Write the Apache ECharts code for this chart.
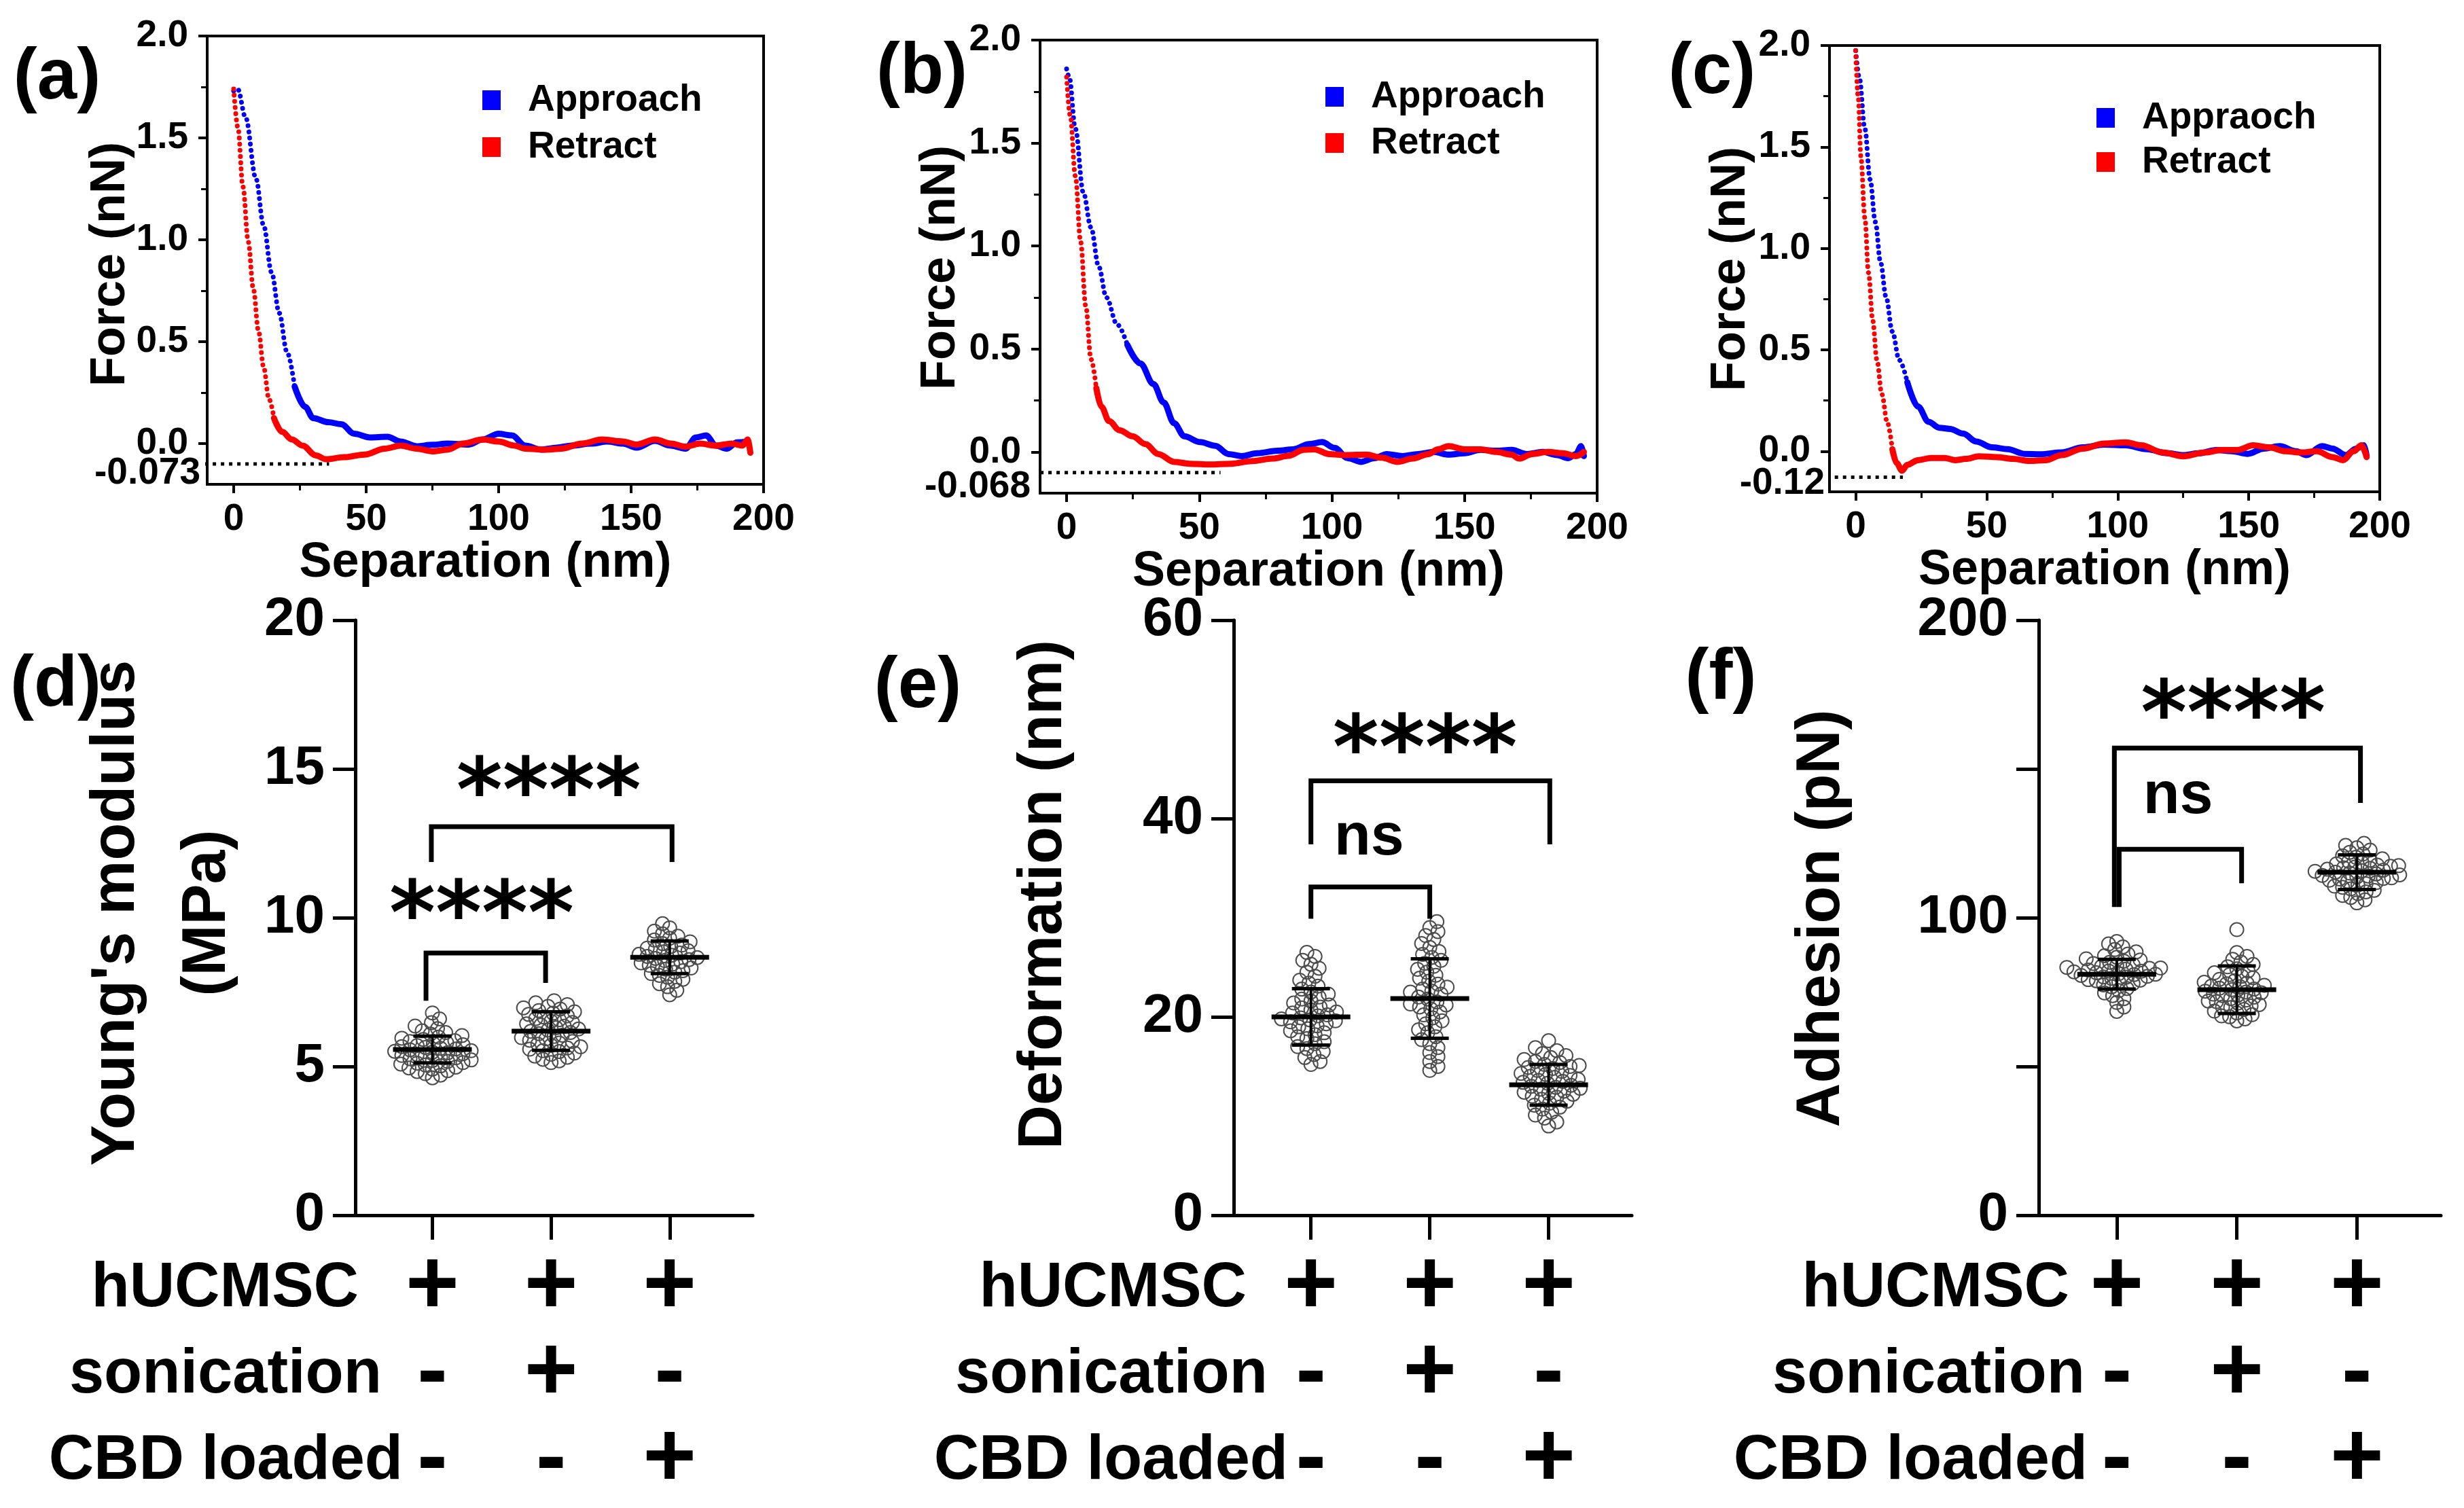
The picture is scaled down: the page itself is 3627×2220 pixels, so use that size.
<!DOCTYPE html>
<html><head><meta charset="utf-8">
<script src="https://cdn.jsdelivr.net/npm/echarts@6/dist/echarts.min.js"></script>
<style>html,body{margin:0;padding:0;background:#fff}#c{width:3627px;height:2220px}</style>
</head><body><div id="c"></div>
<script>
// ---------------- DATA ----------------
// (a)
const approachA = [[0,1.73],[1.5,1.74],[4.5,1.6],[8.4,1.3],[11.3,1.07],[14.3,0.84],[17.2,0.64],[20.1,0.45],[23,0.28],[27,0.18],[30,0.125],[35.7,0.105],[40.6,0.095],[45.5,0.048],[51.4,0.03],[58,0.033],[63,0.01],[69,-0.013],[75,-0.006],[80.7,0],[88.5,-0.005],[94,0.02],[100,0.048],[105,0.04],[110,-0.01],[116,-0.03],[122,-0.02],[127.5,-0.01],[135,0],[141,0.01],[147,0],[152,-0.02],[159,0.013],[165,-0.01],[170.5,-0.025],[174.5,0.03],[178.3,0.04],[182,-0.01],[186,-0.025],[190,0.006],[194,0.01]];
const retractA = [[0,1.74],[1.6,1.55],[3.5,1.26],[5.5,0.99],[7.4,0.76],[9.4,0.55],[11.3,0.375],[13.3,0.22],[15.2,0.125],[18.2,0.058],[22,0.02],[26,-0.01],[31,-0.058],[34.8,-0.077],[41.6,-0.067],[49.4,-0.054],[57,-0.025],[63,-0.01],[69,-0.025],[75,-0.038],[80.7,-0.03],[86.5,0],[94,0.02],[100,0.01],[106,-0.01],[110,-0.025],[118,-0.03],[123.6,-0.025],[131.5,0],[139,0.02],[147,0.01],[152,-0.005],[159,0.02],[165,0],[170.5,-0.015],[176,0],[182,-0.01],[188,0],[192,-0.01],[194,0.02],[195,-0.045]];
// (b)
const approachB = [[0,1.86],[1,1.82],[3.3,1.57],[6.3,1.26],[9.2,1.09],[12.1,0.9],[15,0.75],[19,0.62],[22.9,0.52],[27.8,0.43],[32.7,0.33],[36.6,0.24],[40.5,0.14],[44.4,0.076],[50.3,0.048],[56,0.03],[61,-0.01],[66,-0.02],[71.8,-0.006],[79.6,0.006],[85.5,0.013],[91.4,0.038],[96.3,0.048],[101,0.02],[106,-0.03],[111,-0.048],[116,-0.03],[120.7,-0.01],[126.6,-0.02],[132.5,-0.01],[138.4,0],[144,-0.013],[150,-0.006],[156,0.01],[162,0.006],[167.7,0.01],[173.6,-0.01],[179.5,0],[185,-0.015],[189,-0.03],[192,-0.01],[194,0.028],[195,-0.02]];
const retractB = [[0,1.82],[1.4,1.63],[3.3,1.34],[5.3,1.02],[7.2,0.71],[9.2,0.45],[11.2,0.31],[13.1,0.22],[16,0.15],[20,0.105],[24.9,0.076],[29.7,0.038],[34.6,-0.01],[40.5,-0.048],[46.4,-0.057],[54,-0.061],[62,-0.057],[70,-0.044],[77.7,-0.032],[83.6,-0.019],[89.4,0.01],[93.3,0.013],[99,-0.01],[105,-0.015],[113,-0.013],[118.8,-0.028],[124.7,-0.048],[130.5,-0.032],[136.4,-0.01],[140,0.013],[144,0.028],[150,0.013],[156,0.013],[162,0],[167.7,-0.013],[170.6,-0.032],[175.5,-0.01],[181.4,0],[187,-0.006],[192,-0.02],[195,0]];
// (c)
const approachC = [[0,1.975],[1.4,1.84],[3.5,1.59],[5.5,1.34],[7.5,1.13],[9.5,0.93],[11.6,0.76],[14,0.59],[16.6,0.45],[19.7,0.34],[23.8,0.22],[27.8,0.145],[31.9,0.116],[36,0.11],[41,0.087],[46,0.048],[52,0.019],[58,0.01],[64.4,-0.013],[70.5,-0.015],[78.6,-0.006],[86.7,0.019],[94.8,0.033],[103,0.029],[111,0.01],[119,-0.01],[125,-0.019],[131,-0.01],[137.5,0.006],[143.6,0],[149.6,-0.013],[155.7,0.013],[161.8,0.025],[168,0],[172,-0.019],[178,0.025],[182,0.013],[187,-0.019],[191,0.013],[194,0.029],[195,-0.025]];
const retractC = [[0,1.975],[1,1.74],[2,1.45],[3.5,1.15],[4.9,0.88],[6.5,0.645],[8.1,0.45],[10,0.28],[12,0.145],[14,0.01],[15.6,-0.058],[17.7,-0.096],[19.7,-0.067],[23.8,-0.044],[28.8,-0.033],[33.9,-0.033],[38,-0.044],[42,-0.038],[47,-0.025],[54,-0.029],[60,-0.038],[66.4,-0.048],[72.5,-0.044],[78.6,-0.019],[86.7,0.013],[94.8,0.038],[103,0.044],[109,0.029],[117,-0.006],[125,-0.025],[133.4,-0.006],[139.5,0.006],[145.6,0.006],[151.7,0.029],[157.8,0.019],[164,0],[170,-0.006],[176,0],[182,-0.029],[186,-0.044],[190,0],[193,0.029],[195,-0.029]];
const curveNames = [['Approach','Retract'],['Approach','Retract'],['Appraoch','Retract']];
const adhesionLineY = [-0.1, -0.1, -0.128];
const adhesionLineX = [[-51, 36], [-53, 58], [-8, 18]];
const adhesionLabels = ['-0.073', '-0.068', '-0.12'];
const forceTicks = [0, 0.5, 1.0, 1.5, 2.0];
const forceMinorTicks = [0.25, 0.75, 1.25, 1.75];
const sepTicks = [0, 50, 100, 150, 200];
const sepMinorTicks = [25, 75, 125, 175];

// (d)(e)(f) conditions
const rowTitles = ['hUCMSC', 'sonication', 'CBD loaded'];
const hucmsc = ['+', '+', '+'];
const sonication = ['-', '+', '-'];
const cbdLoaded = ['-', '-', '+'];

// (d) Young's modulus (MPa)
const young1 = [4.62,4.71,4.76,4.83,4.86,4.91,4.95,4.98,5.02,5.05,5.08,5.11,5.13,5.17,5.2,5.22,5.26,5.29,5.31,5.34,5.37,5.4,5.43,5.46,5.48,5.51,5.53,5.56,5.59,5.61,5.64,5.67,5.7,5.73,5.77,5.8,5.84,5.87,5.91,5.95,5.99,6.04,6.09,6.14,6.2,6.27,6.36,6.47,6.6,6.8];
const young2 = [5.13,5.19,5.24,5.31,5.35,5.41,5.45,5.5,5.53,5.58,5.62,5.66,5.71,5.75,5.79,5.84,5.88,5.93,5.97,6.01,6.05,6.1,6.14,6.18,6.22,6.26,6.3,6.35,6.39,6.43,6.48,6.52,6.57,6.61,6.66,6.7,6.75,6.79,6.84,6.88,6.93,6.97,7.02,7.08,7.14,7.21];
const young3 = [7.41,7.56,7.68,7.78,7.86,7.93,8.0,8.06,8.12,8.17,8.22,8.27,8.31,8.36,8.4,8.44,8.48,8.52,8.56,8.59,8.63,8.66,8.7,8.74,8.77,8.81,8.85,8.89,8.94,8.98,9.03,9.08,9.13,9.19,9.25,9.31,9.38,9.46,9.55,9.66,9.8];
const youngMean = [5.57, 6.19, 8.67];
const youngSd = [0.45, 0.65, 0.55];
const youngBrackets = [[0.946, 1.954, 8.81, 7.21, 7.81], [0.991, 3.02, 13.06, 11.87, 11.87]];
const youngSigX = [1.415, 1.98], youngSigY = [9.9, 14.04], youngSigText = ['****', '****'];
const youngTicks = [0, 5, 10, 15, 20];

// (e) Deformation (nm)
const def1 = [15.2,15.5,15.9,16.2,16.5,16.8,17.0,17.3,17.5,17.8,18.0,18.2,18.4,18.6,18.8,19.0,19.1,19.3,19.5,19.6,19.7,19.8,19.9,20.1,20.2,20.4,20.5,20.7,20.9,21.0,21.2,21.4,21.6,21.8,22.0,22.3,22.5,22.8,23.1,23.4,23.7,24.1,24.5,24.9,25.3,25.7,26.1,26.5];
const def2 = [14.6,15.0,15.5,16.0,16.4,16.9,17.3,17.7,18.0,18.4,18.7,19.0,19.3,19.6,19.9,20.2,20.5,20.8,21.0,21.2,21.3,21.5,21.8,22.0,22.3,22.5,22.6,22.8,23.0,23.3,23.6,23.9,24.2,24.5,24.8,25.1,25.4,25.7,26.0,26.3,26.6,27.0,27.4,27.8,28.2,28.6,29.0,29.6];
const def3 = [9.0,9.4,9.8,10.1,10.4,10.7,10.9,11.1,11.3,11.5,11.7,11.9,12.0,12.2,12.3,12.4,12.5,12.7,12.8,12.9,13.0,13.1,13.3,13.4,13.5,13.6,13.7,13.9,14.0,14.1,14.2,14.3,14.5,14.6,14.8,14.9,15.0,15.1,15.2,15.4,15.5,15.7,15.9,16.1,16.3,16.6,16.9,17.6];
const defMean = [20.0, 21.85, 13.15];
const defSd = [2.85, 4.0, 2.05];
const defBrackets = [[1.0, 2.0, 33.1, 29.9, 29.9], [1.0, 3.01, 43.8, 37.4, 37.4]];
const defSigX = [1.49, 1.96], defSigY = [38.0, 46.4], defSigText = ['ns', '****'];
const defTicks = [0, 20, 40, 60];

// (f) Adhesion (pN)
const adh1 = [68.5,70.0,71.5,72.8,73.8,74.7,75.5,76.2,76.8,77.4,77.9,78.4,78.8,79.0,79.2,79.6,80.0,80.1,80.3,80.6,80.9,81.0,81.2,81.5,81.8,82.0,82.1,82.4,82.7,83.0,83.1,83.3,83.6,83.9,84.2,84.6,85.0,85.4,85.8,86.2,86.7,87.2,87.8,88.5,89.3,90.2,91.2,92.0];
const adh2 = [65.3,66.0,66.7,67.0,67.4,68.0,68.6,69.2,69.8,70.0,70.3,70.8,71.3,71.8,72.0,72.3,72.8,73.3,73.8,74.0,74.3,74.8,75.0,75.3,75.8,76.0,76.3,76.8,77.0,77.3,77.8,78.0,78.3,78.8,79.3,79.8,80.3,80.9,81.5,82.1,82.8,83.5,84.3,85.1,86.0,87.0,88.3,96.0];
const adh3 = [105.0,106.0,106.8,107.5,108.1,108.7,109.2,109.7,110.2,110.6,111.0,111.4,111.8,112.2,112.6,113.0,113.2,113.4,113.7,114.0,114.2,114.4,114.7,115.0,115.3,115.6,115.8,116.0,116.3,116.6,116.8,117.0,117.3,117.5,117.7,118.1,118.5,118.9,119.3,119.8,120.3,120.8,121.4,122.0,122.7,123.5,124.3,125.0];
const adhMean = [81.0, 75.8, 115.3];
const adhSd = [5.0, 8.0, 5.8];
const adhBrackets = [[1.02, 2.04, 123, 103.6, 111.6], [0.98, 3.03, 157, 103.6, 138.6]];
const adhSigX = [1.51, 1.97], adhSigY = [140.6, 166.4], adhSigText = ['ns', '****'];
const adhTicks = [0, 50, 100, 150, 200];
const adhLabelTicks = [0, 100, 200];

// ---------------- STYLE / LAYOUT ----------------
const FONT = 'Liberation Sans, Arial, Helvetica, sans-serif';
const STARFONT = 'DejaVu Sans, sans-serif';
const BLUE = '#0000ff', RED = '#ff0000';
const topLayout = [
  {left: 305, top: 53, width: 819, height: 660, legendLeft: 705, legendTop: 115, legendGap: 14, dotLabelRight: 295, dotLabelY: 697, tag: '(a)', tagX: 84, tagY: 116, forceX: 163, forceY: 389},
  {left: 1531, top: 59, width: 820, height: 667, legendLeft: 1946, legendTop: 110, legendGap: 13, dotLabelRight: 1517, dotLabelY: 717, tag: '(b)', tagX: 1357, tagY: 108, forceX: 1385, forceY: 394},
  {left: 2693, top: 67, width: 810, height: 657, legendLeft: 3081, legendTop: 141, legendGap: 10, dotLabelRight: 2686, dotLabelY: 712, tag: '(c)', tagX: 2520, tagY: 108, forceX: 2548, forceY: 396}
];
const splitX = [[23, 15.2], [22.9, 11.2], [19.7, 14]];
const bottomLayout = [
  {left: 523, top: 913, width: 585, height: 876, tag: '(d)', tagX: 82, tagY: 1010, titleX: 239, titleY: 1344, rowRight: [528, 562, 593], swarmD: 12},
  {left: 1816, top: 913, width: 586, height: 876, tag: '(e)', tagX: 1351, tagY: 1012, titleX: 1537, titleY: 1317, rowRight: [1835, 1866, 1896], swarmD: 13},
  {left: 3001, top: 913, width: 592, height: 876, tag: '(f)', tagX: 2533, tagY: 1000, titleX: 2682, titleY: 1352, rowRight: [3046, 3069, 3073], swarmD: 11.5}
];
const rowY = [1898, 2025, 2152];
const XMIN = 0.35, XMAX = 3.7;

const option = {
  backgroundColor: '#fff', animation: false,
  grid: [], xAxis: [], yAxis: [], series: [], legend: [], graphic: []
};

function txt(text, x, y, size, opts) {
  opts = opts || {};
  return {
    type: 'text', x: x, y: y, rotation: opts.rotation || 0, silent: true, z: 100,
    style: {
      text: text, fill: '#000', fontSize: size, fontWeight: 'bold', fontFamily: opts.font || FONT,
      align: opts.align || 'center', verticalAlign: 'middle',
      textAlign: opts.align || 'center', textVerticalAlign: 'middle',
      lineHeight: opts.lineHeight
    }
  };
}

function splitCurve(data, sx) {
  let idx = data.findIndex(p => p[0] >= sx);
  if (idx < 0) idx = data.length - 1;
  return [data.slice(0, idx + 1), data.slice(idx)];
}

// ---------------- TOP PANELS ----------------
const curves = [[approachA, retractA], [approachB, retractB], [approachC, retractC]];
topLayout.forEach((L, i) => {
  const g = option.grid.length;
  option.grid.push({left: L.left, top: L.top, width: L.width, height: L.height, show: true,
    borderColor: '#000', borderWidth: 4, backgroundColor: 'transparent', containLabel: false, outerBoundsMode: 'none'});
  const xi = option.xAxis.length;
  option.xAxis.push({
    gridIndex: g, type: 'value', min: -10, max: 200,
    axisLine: {show: true, onZero: false, lineStyle: {color: '#000', width: 4}},
    axisTick: {show: true, length: 13, lineStyle: {color: '#000', width: 4}, customValues: sepTicks},
    axisLabel: {show: true, customValues: sepTicks, margin: 24, fontSize: 55, fontWeight: 'bold', fontFamily: FONT, color: '#000'},
    splitLine: {show: false},
    name: 'Separation (nm)', nameLocation: 'middle', nameGap: 61,
    nameTextStyle: {fontSize: 72, fontWeight: 'bold', fontFamily: FONT, color: '#000'}
  });
  option.xAxis.push({
    gridIndex: g, type: 'value', min: -10, max: 200, position: 'bottom',
    axisLine: {show: false, onZero: false}, axisLabel: {show: false}, splitLine: {show: false},
    axisTick: {show: true, length: 9, lineStyle: {color: '#000', width: 3}, customValues: sepMinorTicks}
  });
  const yi = option.yAxis.length;
  option.yAxis.push({
    gridIndex: g, type: 'value', min: -0.2, max: 2.0,
    axisLine: {show: true, onZero: false, lineStyle: {color: '#000', width: 4}},
    axisTick: {show: true, length: 13, lineStyle: {color: '#000', width: 4}, customValues: forceTicks},
    axisLabel: {show: true, customValues: forceTicks, formatter: v => Number(v).toFixed(1), margin: 28,
      fontSize: 55, fontWeight: 'bold', fontFamily: FONT, color: '#000'},
    splitLine: {show: false}
  });
  option.yAxis.push({
    gridIndex: g, type: 'value', min: -0.2, max: 2.0, position: 'left',
    axisLine: {show: false, onZero: false}, axisLabel: {show: false}, splitLine: {show: false},
    axisTick: {show: true, length: 9, lineStyle: {color: '#000', width: 3}, customValues: forceMinorTicks}
  });
  const cols = [BLUE, RED];
  curves[i].forEach((data, k) => {
    const parts = splitCurve(data, splitX[i][k]);
    const base = {type: 'line', xAxisIndex: xi, yAxisIndex: yi, name: curveNames[i][k], showSymbol: false,
      symbol: 'none', smooth: 0.35, smoothMonotone: 'x', silent: true, itemStyle: {color: cols[k]}, z: 3 + k};
    option.series.push(Object.assign({}, base, {data: parts[0],
      lineStyle: {color: cols[k], width: 7, type: [0.1, 9], cap: 'round'}}));
    option.series.push(Object.assign({}, base, {data: parts[1],
      lineStyle: {color: cols[k], width: 9, cap: 'round', join: 'round'}}));
  });
  option.series.push({
    type: 'line', xAxisIndex: xi, yAxisIndex: yi, clip: false, silent: true, symbol: 'none',
    data: [[adhesionLineX[i][0], adhesionLineY[i]], [adhesionLineX[i][1], adhesionLineY[i]]],
    lineStyle: {color: '#000', width: 5, type: [5, 7]}, z: 6
  });
  option.legend.push({
    orient: 'vertical', left: L.legendLeft, top: L.legendTop, itemWidth: 27, itemHeight: 29, itemGap: L.legendGap,
    icon: 'rect', data: curveNames[i], selectedMode: false,
    textStyle: {fontSize: 55, fontWeight: 'bold', fontFamily: FONT, color: '#000', padding: [0, 0, 0, 35]}
  });
  option.graphic.push(txt(adhesionLabels[i], L.dotLabelRight, L.dotLabelY, 55, {align: 'right'}));
  option.graphic.push(txt(L.tag, L.tagX, L.tagY, 105));
  option.graphic.push(txt('Force (nN)', L.forceX, L.forceY, 72, {rotation: Math.PI / 2}));
});

// ---------------- BOTTOM PANELS ----------------
function swarm(vals, cx, pxPerX, pxPerY, minD) {
  const s = vals.slice().sort((a, b) => a - b);
  const placed = [];
  const res = [];
  s.forEach((v, idx) => {
    const py = v * pxPerY;
    const sgn = idx % 2 ? 1 : -1;
    let chosen = 0;
    for (let k = 0; k < 600; k++) {
      const off = k === 0 ? 0 : (k % 2 ? sgn : -sgn) * Math.ceil(k / 2) * 1.5;
      let ok = true;
      for (const p of placed) {
        const dx = off - p[0], dy = py - p[1];
        if (dx * dx + dy * dy < minD * minD) { ok = false; break; }
      }
      if (ok) { chosen = off; break; }
    }
    placed.push([chosen, py]);
    res.push([cx + chosen / pxPerX, v]);
  });
  return res;
}

function meanSdRender(means, sds) {
  return function (params, api) {
    const i = params.dataIndex;
    const x = api.value(0), m = means[i], s = sds[i];
    const c = api.coord([x, m]), t = api.coord([x, m + s]), b = api.coord([x, m - s]);
    const st = w => ({stroke: '#000', lineWidth: w, fill: null});
    return {type: 'group', children: [
      {type: 'line', shape: {x1: c[0], y1: t[1], x2: c[0], y2: b[1]}, style: st(4)},
      {type: 'line', shape: {x1: c[0] - 28, y1: t[1], x2: c[0] + 28, y2: t[1]}, style: st(5)},
      {type: 'line', shape: {x1: c[0] - 28, y1: b[1], x2: c[0] + 28, y2: b[1]}, style: st(5)},
      {type: 'line', shape: {x1: c[0] - 58, y1: c[1], x2: c[0] + 58, y2: c[1]}, style: st(7)}
    ]};
  };
}

function bracketRender(params, api) {
  const x1 = api.value(0), x2 = api.value(1), yt = api.value(2), yl = api.value(3), yr = api.value(4);
  return {type: 'polyline', shape: {points: [api.coord([x1, yl]), api.coord([x1, yt]), api.coord([x2, yt]), api.coord([x2, yr])]},
    style: {stroke: '#000', lineWidth: 7, fill: null, lineJoin: 'miter'}};
}

function sigRender(texts) {
  return function (params, api) {
    const t = texts[params.dataIndex];
    const p = api.coord([api.value(0), api.value(1)]);
    const isNs = t === 'ns';
    return {type: 'text', x: p[0], y: p[1], style: {
      text: t, fill: '#000', fontSize: isNs ? 88 : 130, fontWeight: 'bold', fontFamily: isNs ? FONT : STARFONT,
      align: 'center', verticalAlign: 'middle', textAlign: 'center', textVerticalAlign: 'middle'}};
  };
}

const bottomPanels = [
  {groups: [young1, young2, young3], mean: youngMean, sd: youngSd, br: youngBrackets, sx: youngSigX, sy: youngSigY, st: youngSigText,
    max: 20, interval: 5, labelTicks: youngTicks, title: "Young's modulus\n(MPa)"},
  {groups: [def1, def2, def3], mean: defMean, sd: defSd, br: defBrackets, sx: defSigX, sy: defSigY, st: defSigText,
    max: 60, interval: 20, labelTicks: defTicks, title: 'Deformation (nm)'},
  {groups: [adh1, adh2, adh3], mean: adhMean, sd: adhSd, br: adhBrackets, sx: adhSigX, sy: adhSigY, st: adhSigText,
    max: 200, interval: 50, labelTicks: adhLabelTicks, title: 'Adhesion (pN)'}
];

bottomPanels.forEach((P, i) => {
  const L = bottomLayout[i];
  const g = option.grid.length;
  option.grid.push({left: L.left, top: L.top, width: L.width, height: L.height, show: false, containLabel: false, outerBoundsMode: 'none'});
  const xi = option.xAxis.length;
  option.xAxis.push({
    gridIndex: g, type: 'value', min: XMIN, max: XMAX,
    axisLine: {show: true, onZero: false, lineStyle: {color: '#000', width: 5}},
    axisTick: {show: true, length: 36, lineStyle: {color: '#000', width: 5}, customValues: [1, 2, 3]},
    axisLabel: {show: true, customValues: [1, 2, 3], margin: 44,
      formatter: v => { const k = Math.round(v) - 1; return hucmsc[k] + '\n' + sonication[k] + '\n' + cbdLoaded[k]; },
      fontSize: 135, lineHeight: 127, fontWeight: 'bold', fontFamily: FONT, color: '#000'},
    splitLine: {show: false}
  });
  const yi = option.yAxis.length;
  option.yAxis.push({
    gridIndex: g, type: 'value', min: 0, max: P.max, interval: P.interval,
    axisLine: {show: true, onZero: false, lineStyle: {color: '#000', width: 5}},
    axisTick: {show: true, length: 33, lineStyle: {color: '#000', width: 5}},
    axisLabel: {show: true, customValues: P.labelTicks, margin: 45, fontSize: 80, fontWeight: 'bold', fontFamily: FONT, color: '#000'},
    splitLine: {show: false}
  });
  const pxPerX = L.width / (XMAX - XMIN), pxPerY = L.height / P.max;
  P.groups.forEach((vals, k) => {
    option.series.push({
      type: 'scatter', xAxisIndex: xi, yAxisIndex: yi, silent: true, symbol: 'circle', symbolSize: 20,
      data: swarm(vals, k + 1, pxPerX, pxPerY, L.swarmD),
      itemStyle: {color: 'rgba(255,255,255,0)', borderColor: '#4d4d4d', borderWidth: 2, opacity: 1}, z: 2
    });
  });
  option.series.push({
    type: 'custom', xAxisIndex: xi, yAxisIndex: yi, silent: true, z: 5,
    data: [[1, P.mean[0]], [2, P.mean[1]], [3, P.mean[2]]], renderItem: meanSdRender(P.mean, P.sd)
  });
  option.series.push({
    type: 'custom', xAxisIndex: xi, yAxisIndex: yi, silent: true, z: 5,
    data: P.br, renderItem: bracketRender, encode: {x: [0, 1], y: [2, 3, 4]}
  });
  option.series.push({
    type: 'custom', xAxisIndex: xi, yAxisIndex: yi, silent: true, z: 6,
    data: P.sx.map((x, k) => [x, P.sy[k]]), renderItem: sigRender(P.st)
  });
  option.graphic.push(txt(L.tag, L.tagX, L.tagY, 105));
  option.graphic.push(txt(P.title, L.titleX, L.titleY, 90, {rotation: Math.PI / 2, lineHeight: 134}));
  rowTitles.forEach((t, r) => option.graphic.push(txt(t, L.rowRight[r], rowY[r], 92, {align: 'right'})));
});

const chart = echarts.init(document.getElementById('c'), null, {renderer: 'canvas', width: 3627, height: 2220});
chart.setOption(option);
</script></body></html>
